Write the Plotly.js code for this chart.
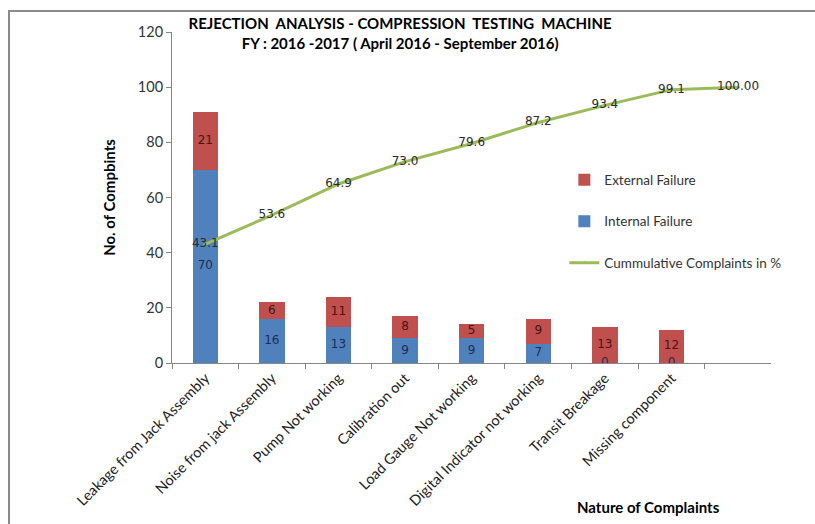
<!DOCTYPE html>
<html>
<head>
<meta charset="utf-8">
<script src="https://cdn.plot.ly/plotly-3.0.1.min.js"></script>
<style>
  html, body { margin: 0; padding: 0; background: #fff; }
  #wrap { position: relative; width: 815px; height: 524px; }
  #chart { width: 815px; height: 524px; }
  #frame { position: absolute; left: 8px; top: 10px; width: 900px; height: 600px;
           border-left: 2px solid #8a8a8a; border-top: 2px solid #8a8a8a; pointer-events: none; }
</style>
</head>
<body>
<div id="wrap">
  <div id="chart"></div>
  <div id="frame"></div>
</div>
<script>
// ---- data ----
const categories = [
  "Leakage from Jack Assembly",
  "Noise from jack Assembly",
  "Pump Not working",
  "Calibration out",
  "Load Gauge Not working",
  "Digital Indicator not working",
  "Transit Breakage",
  "Missing component",
  " "
];
const internalFailure = [70, 16, 13, 9, 9, 7, 0, 0];
const externalFailure = [21, 6, 11, 8, 5, 9, 13, 12];
const cumulativePct   = [43.1, 53.6, 64.9, 73.0, 79.6, 87.2, 93.4, 99.1, 100.00];
const cumulativeLabels = ["43.1", "53.6", "64.9", "73.0", "79.6", "87.2", "93.4", "99.1", "100.00"];
const yTicks = [0, 20, 40, 60, 80, 100, 120];

const barCats = categories.slice(0, internalFailure.length);
const labelFont = "DejaVu Sans, sans-serif";
const mainFont = "Lato, 'Open Sans', sans-serif";

const traces = [
  {
    type: "bar", name: "Internal Failure", x: barCats, y: internalFailure,
    marker: { color: "#4F81BD" }, legendrank: 2, legendgroup: "i",
    hoverinfo: "skip"
  },
  {
    type: "bar", name: "External Failure", x: barCats, y: externalFailure,
    marker: { color: "#C0504D" }, legendrank: 1, legendgroup: "e",
    hoverinfo: "skip"
  },
  {
    type: "scatter", mode: "text", x: barCats,
    y: internalFailure.map(v => v / 2),
    text: internalFailure.map(String), textposition: "middle center",
    textfont: { family: labelFont, size: 12, color: "#1F2D55" },
    showlegend: false, hoverinfo: "skip"
  },
  {
    type: "scatter", mode: "text", x: barCats,
    y: externalFailure.map((v, i) => internalFailure[i] + v / 2),
    text: externalFailure.map(String), textposition: "middle center",
    textfont: { family: labelFont, size: 12, color: "#4A1212" },
    showlegend: false, hoverinfo: "skip"
  },
  {
    type: "scatter", mode: "lines+markers+text", name: "Cummulative Complaints in %",
    x: categories, y: cumulativePct, text: cumulativeLabels, textposition: "middle center",
    textfont: { family: labelFont, size: 12, color: "#2b2b2b" },
    line: { color: "#9BBB59", width: 3 },
    marker: { color: "#9BBB59", size: 4, symbol: "triangle-up" },
    legendrank: 3, legendgroup: "c", hoverinfo: "skip"
  }
];

const layout = {
  width: 815, height: 524,
  margin: { l: 172, r: 44, t: 32, b: 161 },
  paper_bgcolor: "#ffffff", plot_bgcolor: "#ffffff",
  barmode: "stack", bargap: 0.62,
  font: { family: mainFont, color: "#404040" },
  title: {
    text: "REJECTION  ANALYSIS - COMPRESSION  TESTING  MACHINE<br>FY : 2016 -2017 ( April 2016 - September 2016)",
    font: { family: mainFont, size: 15, color: "#000", weight: "bold" },
    x: 0.491, xref: "container", xanchor: "center",
    y: 1 - 29 / 524, yref: "container", yanchor: "middle"
  },
  xaxis: {
    type: "category", categoryorder: "array", categoryarray: categories,
    tickson: "boundaries", ticks: "outside", ticklen: 5, tickcolor: "#868686",
    showline: true, linecolor: "#868686", linewidth: 1,
    showgrid: false, tickangle: -45,
    tickfont: { family: mainFont, size: 14.5, color: "#222" },
    automargin: false, fixedrange: true
  },
  yaxis: {
    range: [0, 120], tickvals: yTicks, ticks: "outside", ticklen: 5, tickcolor: "#868686",
    showline: true, linecolor: "#868686", linewidth: 1,
    showgrid: false, zeroline: false,
    tickfont: { family: mainFont, size: 14.5, color: "#333" },
    title: { text: "No. of Compbints", standoff: 18,
             font: { family: mainFont, size: 15, color: "#000", weight: "bold" } },
    automargin: false, fixedrange: true
  },
  legend: {
    x: 0.655, y: 0.6, xanchor: "left", yanchor: "top",
    bgcolor: "rgba(0,0,0,0)", tracegroupgap: 21,
    font: { family: mainFont, size: 13.5, color: "#333" },
    itemwidth: 30
  },
  annotations: [
    {
      text: "Nature of Complaints", xref: "paper", yref: "paper",
      x: 0.795, y: -0.435, xanchor: "center", yanchor: "middle", showarrow: false,
      font: { family: mainFont, size: 15, color: "#000", weight: "bold" }
    }
  ]
};

Plotly.newPlot("chart", traces, layout, { displayModeBar: false, staticPlot: true });
</script>
</body>
</html>
